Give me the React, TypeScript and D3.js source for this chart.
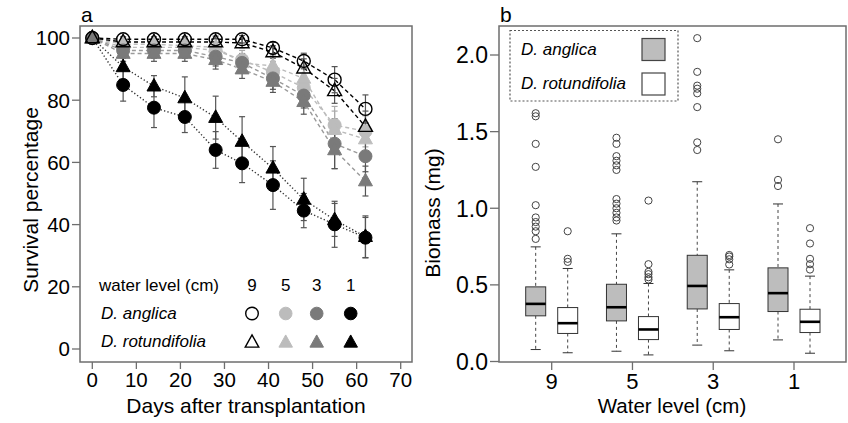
import React from "react";
import * as d3 from "d3";

// ---------- Panel a data ----------
const days = [0, 7, 14, 21, 28, 34, 41, 48, 55, 62];
const xTicksA = [0, 10, 20, 30, 40, 50, 60, 70];
const yTicksA = [0, 20, 40, 60, 80, 100];

const anglica9 = [100, 99.6, 99.6, 99.6, 99.6, 99.6, 96.8, 92.6, 86.6, 77.2];
const anglica9Err = [0, 0.8, 0.8, 0.8, 1, 1.2, 1.8, 2.5, 4.2, 4.5];
const rotund9 = [100, 98.7, 98.7, 98.7, 98.7, 98.4, 95.5, 90.3, 83, 71.5];
const rotund9Err = [0, 1, 1, 1, 1.2, 1.5, 2, 3, 4, 5];

const anglica5 = [100, 97, 97, 97, 96, 93, 89, 84, 72, 70];
const anglica5Err = [0, 2, 2, 2, 2.5, 3, 3.5, 4, 6, 5];
const rotund5 = [100, 98, 98, 97.5, 97, 92, 91, 87, 70.5, 67.5];
const rotund5Err = [0, 2, 2, 2, 2.5, 3, 3.5, 4, 6, 5];

const anglica3 = [100, 96, 96, 96, 94, 92, 87, 81.5, 66, 62];
const anglica3Err = [0, 2.5, 2.5, 2.5, 3, 3, 3.5, 4, 8, 5];
const rotund3 = [100, 95, 95, 95, 93, 90, 86, 79.5, 64, 54];
const rotund3Err = [0, 2.5, 2.5, 2.5, 3, 3, 3.5, 4, 6, 4.8];

const anglica1 = [100, 84.9, 77.6, 74.6, 64, 59.7, 52.7, 44.5, 40.1, 35.8];
const anglica1Err = [0, 5.2, 6.4, 5, 5.9, 6.2, 7.8, 5.5, 7.4, 6.5];
const rotund1 = [100, 90.7, 84.5, 80.7, 74.4, 66.7, 58.1, 48.1, 41.5, 36.1];
const rotund1Err = [0, 4, 3.4, 6.8, 6.9, 8, 7, 6.8, 5.3, 6.7];

const legendLevels = ["9", "5", "3", "1"];

// ---------- Panel b data ----------
const waterLevels = ["9", "5", "3", "1"];
const yTicksB = [0, 0.5, 1.0, 1.5, 2.0];
// [lower whisker, Q1, median, Q3, upper whisker]
const anglicaBox = [
  [0.078, 0.298, 0.376, 0.487, 0.748],
  [0.067, 0.265, 0.354, 0.504, 0.833],
  [0.107, 0.343, 0.493, 0.693, 1.173],
  [0.141, 0.326, 0.446, 0.611, 1.028],
];
const rotundBox = [
  [0.057, 0.183, 0.25, 0.352, 0.607],
  [0.043, 0.143, 0.209, 0.293, 0.509],
  [0.07, 0.209, 0.289, 0.378, 0.598],
  [0.054, 0.189, 0.259, 0.341, 0.557],
];
const anglicaOutliers = [
  [0.8, 0.85, 0.88, 0.91, 0.94, 1.02, 1.27, 1.42, 1.6, 1.62],
  [0.92, 0.94, 0.97, 1.0, 1.03, 1.06, 1.25, 1.28, 1.31, 1.34, 1.42, 1.46],
  [1.38, 1.43, 1.66, 1.75, 1.78, 1.8, 1.89, 2.11],
  [1.145, 1.185, 1.45],
];
const rotundOutliers = [
  [0.65, 0.67, 0.85],
  [0.535, 0.55, 0.57, 0.585, 0.635, 1.05],
  [0.633, 0.667, 0.685, 0.695],
  [0.6, 0.635, 0.67, 0.77, 0.87],
];

const FONT = "'Liberation Sans', Arial, Helvetica, sans-serif";
const BLACK = "#000";
const LIGHT = "#bcbcbc";
const MID = "#7a7a7a";
const FRAME = "#6e6e6e";
const ERR = "#555";

type Series = {
  vals: number[];
  err: number[];
  color: string;
  lineColor: string;
  dash: string;
  shape: "circle" | "triangle";
  open: boolean;
};

const seriesA: Series[] = [
  { vals: anglica5, err: anglica5Err, color: LIGHT, lineColor: LIGHT, dash: "4,3", shape: "circle", open: false },
  { vals: rotund5, err: rotund5Err, color: LIGHT, lineColor: LIGHT, dash: "4,3", shape: "triangle", open: false },
  { vals: anglica3, err: anglica3Err, color: MID, lineColor: "#9a9a9a", dash: "4,3", shape: "circle", open: false },
  { vals: rotund3, err: rotund3Err, color: MID, lineColor: "#9a9a9a", dash: "4,3", shape: "triangle", open: false },
  { vals: anglica1, err: anglica1Err, color: BLACK, lineColor: "#333", dash: "1.3,2.2", shape: "circle", open: false },
  { vals: rotund1, err: rotund1Err, color: BLACK, lineColor: "#333", dash: "1.3,2.2", shape: "triangle", open: false },
  { vals: anglica9, err: anglica9Err, color: BLACK, lineColor: BLACK, dash: "4,3", shape: "circle", open: true },
  { vals: rotund9, err: rotund9Err, color: BLACK, lineColor: BLACK, dash: "4,3", shape: "triangle", open: true },
];

function tri(cx: number, cy: number, s: number) {
  const h = s * 0.9;
  return `M${cx},${cy - h * 0.62} L${cx + s / 2},${cy + h * 0.38} L${cx - s / 2},${cy + h * 0.38} Z`;
}

function Marker({ x, y, shape, color, open, r = 6.5 }: any) {
  if (shape === "circle") {
    return (
      <circle cx={x} cy={y} r={r} fill={open ? "none" : color} stroke={color} strokeWidth={open ? 1.4 : 1} />
    );
  }
  return (
    <path d={tri(x, y, r * 2.15)} fill={open ? "none" : color} stroke={color} strokeWidth={open ? 1.4 : 1} />
  );
}

export default function App() {
  // Panel a scales
  const ax = d3.scaleLinear().domain([0, 70]).range([92.3, 400.7]);
  const ay = d3.scaleLinear().domain([0, 100]).range([349, 38]);
  const frameA = { x0: 80, x1: 412, y0: 26, y1: 362 };

  // Panel b scales
  const bx = d3.scalePoint<string>().domain(waterLevels).range([551.7, 794]);
  const by = d3.scaleLinear().domain([0, 2]).range([361.5, 55]);
  const frameB = { x0: 499, x1: 846, y0: 26, y1: 362 };
  const off = 16;
  const bw = 20;

  const line = (vals: number[]) =>
    d3
      .line<number>()
      .x((_, i) => ax(days[i]))
      .y((v) => ay(v))(vals) as string;

  const drawBox = (stats: number[], outs: number[], cx: number, fill: string, key: string) => {
    const [lo, q1, med, q3, hi] = stats;
    return (
      <g key={key}>
        <line x1={cx} x2={cx} y1={by(hi)} y2={by(q3)} stroke="#444" strokeWidth={1} strokeDasharray="3,3" />
        <line x1={cx} x2={cx} y1={by(q1)} y2={by(lo)} stroke="#444" strokeWidth={1} strokeDasharray="3,3" />
        <line x1={cx - 5} x2={cx + 5} y1={by(hi)} y2={by(hi)} stroke="#333" strokeWidth={1} />
        <line x1={cx - 5} x2={cx + 5} y1={by(lo)} y2={by(lo)} stroke="#333" strokeWidth={1} />
        <rect x={cx - bw / 2} y={by(q3)} width={bw} height={by(q1) - by(q3)} fill={fill} stroke="#333" strokeWidth={1} />
        <line x1={cx - bw / 2} x2={cx + bw / 2} y1={by(med)} y2={by(med)} stroke="#000" strokeWidth={2.6} />
        {outs.map((o, i) => (
          <circle key={i} cx={cx} cy={by(o)} r={3.6} fill="none" stroke="#444" strokeWidth={1} />
        ))}
      </g>
    );
  };

  return (
    <svg
      width={848}
      height={423}
      style={{ position: "absolute", left: 0, top: 0, background: "#fff" }}
      fontFamily={FONT}
    >
      <rect x={0} y={0} width={848} height={423} fill="#fff" />

      {/* ================= Panel a ================= */}
      <text x={81} y={22} fontSize={21}>a</text>
      <rect x={frameA.x0} y={frameA.y0} width={frameA.x1 - frameA.x0} height={frameA.y1 - frameA.y0} fill="none" stroke={FRAME} strokeWidth={1.5} />
      {yTicksA.map((t) => (
        <g key={t}>
          <line x1={72} x2={80} y1={ay(t)} y2={ay(t)} stroke={FRAME} strokeWidth={1.3} />
          <text x={70} y={ay(t)} dy="0.36em" textAnchor="end" fontSize={20.5}>{t}</text>
        </g>
      ))}
      {xTicksA.map((t) => (
        <g key={t}>
          <line x1={ax(t)} x2={ax(t)} y1={362} y2={369} stroke={FRAME} strokeWidth={1.3} />
          <text x={ax(t)} y={387} textAnchor="middle" fontSize={20.5}>{t}</text>
        </g>
      ))}
      <text x={(frameA.x0 + frameA.x1) / 2 + 0} y={413} textAnchor="middle" fontSize={21}>Days after transplantation</text>
      <text transform="translate(38,200) rotate(-90)" textAnchor="middle" fontSize={21}>Survival percentage</text>

      {/* lines */}
      {seriesA.map((s, i) => (
        <path key={"l" + i} d={line(s.vals)} fill="none" stroke={s.lineColor} strokeWidth={1.4} strokeDasharray={s.dash} />
      ))}
      {/* error bars */}
      {seriesA.map((s, i) => (
        <g key={"e" + i}>
          {s.vals.map((v, j) =>
            s.err[j] > 0 ? (
              <g key={j}>
                <line x1={ax(days[j])} x2={ax(days[j])} y1={ay(v + s.err[j])} y2={ay(v - s.err[j])} stroke={s.color === LIGHT ? "#aaa" : ERR} strokeWidth={1.2} />
                <line x1={ax(days[j]) - 3} x2={ax(days[j]) + 3} y1={ay(v + s.err[j])} y2={ay(v + s.err[j])} stroke={s.color === LIGHT ? "#aaa" : ERR} strokeWidth={1.2} />
                <line x1={ax(days[j]) - 3} x2={ax(days[j]) + 3} y1={ay(v - s.err[j])} y2={ay(v - s.err[j])} stroke={s.color === LIGHT ? "#aaa" : ERR} strokeWidth={1.2} />
              </g>
            ) : null
          )}
        </g>
      ))}
      {/* markers */}
      {seriesA.map((s, i) => (
        <g key={"m" + i}>
          {s.vals.map((v, j) => (
            <Marker key={j} x={ax(days[j])} y={ay(v)} shape={s.shape} color={j === 0 && !s.open ? MID : s.color} open={s.open} />
          ))}
        </g>
      ))}

      {/* legend a */}
      <text x={99} y={291} fontSize={17}>water level (cm)</text>
      <text x={101} y={319} fontSize={17} fontStyle="italic">D. anglica</text>
      <text x={101} y={347} fontSize={17} fontStyle="italic">D. rotundifolia</text>
      {legendLevels.map((lv, i) => {
        const lx = [252, 285.7, 316.7, 350.7][i];
        const col = [BLACK, LIGHT, MID, BLACK][i];
        const open = i === 0;
        return (
          <g key={lv}>
            <text x={lx} y={291} textAnchor="middle" fontSize={17}>{lv}</text>
            <Marker x={lx} y={313.5} shape="circle" color={col} open={open} r={6.3} />
            <Marker x={lx} y={342.5} shape="triangle" color={col} open={open} r={6.3} />
          </g>
        );
      })}

      {/* ================= Panel b ================= */}
      <text x={500} y={22} fontSize={21}>b</text>
      <rect x={frameB.x0} y={frameB.y0} width={frameB.x1 - frameB.x0} height={frameB.y1 - frameB.y0} fill="none" stroke={FRAME} strokeWidth={1.5} />
      {yTicksB.map((t) => (
        <g key={t}>
          <line x1={490} x2={499} y1={by(t)} y2={by(t)} stroke={FRAME} strokeWidth={1.3} />
          <text x={488} y={by(t)} dy="0.36em" textAnchor="end" fontSize={23}>{t.toFixed(1)}</text>
        </g>
      ))}
      {waterLevels.map((lv) => (
        <g key={lv}>
          <line x1={bx(lv)!} x2={bx(lv)!} y1={362} y2={370} stroke={FRAME} strokeWidth={1.3} />
          <text x={bx(lv)!} y={389} textAnchor="middle" fontSize={22}>{lv}</text>
        </g>
      ))}
      <text x={672} y={413} textAnchor="middle" fontSize={20.5}>Water level (cm)</text>
      <text transform="translate(440,213) rotate(-90)" textAnchor="middle" fontSize={21}>Biomass (mg)</text>

      {waterLevels.map((lv, i) => (
        <g key={"bx" + lv}>
          {drawBox(anglicaBox[i], anglicaOutliers[i], bx(lv)! - off, "#bdbdbd", "a" + i)}
          {drawBox(rotundBox[i], rotundOutliers[i], bx(lv)! + off, "#fff", "r" + i)}
        </g>
      ))}

      {/* legend b */}
      <rect x={510} y={30.5} width={168} height={70.5} fill="#fff" stroke="#555" strokeWidth={1.2} strokeDasharray="2,2" />
      <text x={521} y={55} fontSize={17} fontStyle="italic">D. anglica</text>
      <text x={521} y={89} fontSize={17} fontStyle="italic">D. rotundifolia</text>
      <rect x={642} y={38.5} width={23} height={22} fill="#bdbdbd" stroke="#444" strokeWidth={1.2} />
      <rect x={642} y={73} width={23} height={22} fill="#fff" stroke="#444" strokeWidth={1.2} />
    </svg>
  );
}
